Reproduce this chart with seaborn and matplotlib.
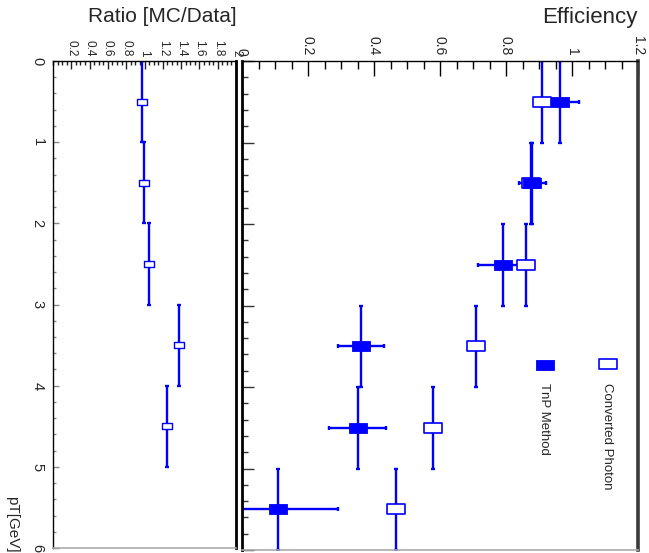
import numpy as np
import pandas as pd
import matplotlib
matplotlib.use("Agg")
import matplotlib.pyplot as plt
from matplotlib.path import Path
from matplotlib.ticker import MultipleLocator, FuncFormatter, FixedLocator
import seaborn as sns

# ---- data -------------------------------------------------------------
pt_centers = [0.5, 1.5, 2.5, 3.5, 4.5, 5.5]
pt_halfwidth = [0.5, 0.5, 0.5, 0.5, 0.5, 0.5]

tnp_eff = [0.965, 0.880, 0.790, 0.360, 0.350, 0.110]
tnp_err = [0.056, 0.040, 0.076, 0.070, 0.086, 0.180]

conv_eff = [0.908, 0.876, 0.860, 0.708, 0.578, 0.467]
conv_err = [0.004, 0.004, 0.004, 0.004, 0.004, 0.004]

ratio_pt = [0.5, 1.5, 2.5, 3.5, 4.5]
ratio_halfwidth = [0.5, 0.5, 0.5, 0.5, 0.5]
ratio_val = [0.972, 0.994, 1.052, 1.381, 1.246]

eff_ticks = [0.0, 0.2, 0.4, 0.6, 0.8, 1.0, 1.2]
ratio_ticks = [0.2, 0.4, 0.6, 0.8, 1.0, 1.2, 1.4, 1.6, 1.8, 2.0]
pt_ticks = [0, 1, 2, 3, 4, 5, 6]

series_names = ["TnP Method", "Converted Photon"]

# ---- style ------------------------------------------------------------
sns.set_style("white")
plt.rcParams["font.family"] = ["Liberation Sans", "DejaVu Sans"]
NARROW = ["Liberation Sans Narrow", "Liberation Sans", "DejaVu Sans"]
BLUE = "#0000ff"

W, H = 649, 553
fig = plt.figure(figsize=(W / 100, H / 100), dpi=100)


def fx(px):
    return px / W


def fy(py):
    return 1 - py / H


ax_r = fig.add_axes([fx(53), fy(548), fx(236) - fx(53), fy(61) - fy(548)])
ax_e = fig.add_axes([fx(242), fy(550), fx(638) - fx(242), fy(61) - fy(550)])

# rectangular markers
def rect_marker(half_h):
    return Path([(-1, -half_h), (1, -half_h), (1, half_h), (-1, half_h), (-1, -half_h)],
                [Path.MOVETO, Path.LINETO, Path.LINETO, Path.LINETO, Path.CLOSEPOLY])

big_box = rect_marker(0.6)
small_box = rect_marker(0.67)

fmt_g = FuncFormatter(lambda v, p: f"{v:g}")

# ---- efficiency panel ------------------------------------------------
df_tnp = pd.DataFrame({"eff": tnp_eff, "pT": pt_centers})
df_conv = pd.DataFrame({"eff": conv_eff, "pT": pt_centers})

ax_e.errorbar(conv_eff, pt_centers, xerr=conv_err, yerr=pt_halfwidth, fmt="none",
              ecolor=BLUE, elinewidth=1.7, capsize=1.5, capthick=1.7, zorder=2)
ax_e.errorbar(tnp_eff, pt_centers, xerr=tnp_err, yerr=pt_halfwidth, fmt="none",
              ecolor=BLUE, elinewidth=1.7, capsize=1.5, capthick=1.7, zorder=2)
sns.scatterplot(data=df_conv, x="eff", y="pT", ax=ax_e, marker=big_box, s=12.5 ** 2,
                facecolor="white", edgecolor=BLUE, linewidth=1.2, zorder=3, legend=False)
sns.scatterplot(data=df_tnp, x="eff", y="pT", ax=ax_e, marker=big_box, s=12.5 ** 2,
                color=BLUE, edgecolor=BLUE, linewidth=0.6, zorder=4, legend=False)

ax_e.set_xlim(0, 1.2)
ax_e.set_ylim(6, 0)
ax_e.set_xlabel("")
ax_e.set_ylabel("")
ax_e.xaxis.tick_top()
ax_e.xaxis.set_major_locator(FixedLocator(eff_ticks))
ax_e.xaxis.set_minor_locator(MultipleLocator(0.05))
ax_e.xaxis.set_major_formatter(fmt_g)
ax_e.tick_params(axis="x", which="both", direction="in", top=True, bottom=False,
                 labeltop=True, labelbottom=False, color="black", width=1)
ax_e.tick_params(axis="x", which="major", length=11, pad=4, labelsize=10,
                 labelrotation=-90)
ax_e.tick_params(axis="x", which="minor", length=5.5)
ax_e.yaxis.set_major_locator(FixedLocator(pt_ticks))
ax_e.yaxis.set_minor_locator(MultipleLocator(0.2))
ax_e.tick_params(axis="y", which="both", direction="in", left=True, right=False,
                 labelleft=False, color="#333333", width=1)
ax_e.tick_params(axis="y", which="major", length=8.5)
ax_e.tick_params(axis="y", which="minor", length=4.3)
for lbl in ax_e.get_xticklabels():
    lbl.set_ha("center")
    lbl.set_va("bottom")

ax_e.spines["top"].set_color("black")
ax_e.spines["top"].set_linewidth(1)
ax_e.spines["left"].set_color("black")
ax_e.spines["left"].set_linewidth(2)
ax_e.spines["right"].set_color("#3a3a3a")
ax_e.spines["right"].set_linewidth(2.6)
ax_e.spines["bottom"].set_color("#aaaaaa")
ax_e.spines["bottom"].set_linewidth(1.2)

# legend, drawn in axes fraction
ax_e.scatter([0.924], [0.38], transform=ax_e.transAxes, marker=big_box, s=13 ** 2,
             facecolor="white", edgecolor=BLUE, linewidth=1.2, zorder=5, clip_on=False)
ax_e.scatter([0.764], [0.378], transform=ax_e.transAxes, marker=big_box, s=13 ** 2,
             facecolor=BLUE, edgecolor=BLUE, linewidth=0.6, zorder=5, clip_on=False)
ax_e.text(0.922, 0.342, series_names[1], transform=ax_e.transAxes, rotation=-90,
          ha="center", va="top", fontsize=9.5, family=NARROW)
ax_e.text(0.763, 0.342, series_names[0], transform=ax_e.transAxes, rotation=-90,
          ha="center", va="top", fontsize=9.5, family=NARROW)

# ---- ratio panel -----------------------------------------------------
df_ratio = pd.DataFrame({"ratio": ratio_val, "pT": ratio_pt})
ax_r.errorbar(ratio_val, ratio_pt, yerr=ratio_halfwidth, fmt="none", ecolor=BLUE,
              elinewidth=1.7, capsize=1.5, capthick=1.7, zorder=2)
sns.scatterplot(data=df_ratio, x="ratio", y="pT", ax=ax_r, marker=small_box,
                s=6.8 ** 2, facecolor="white", edgecolor=BLUE, linewidth=1.0,
                zorder=3, legend=False)

ax_r.set_xlim(0, 2)
ax_r.set_ylim(6, 0)
ax_r.set_xlabel("")
ax_r.set_ylabel("")
ax_r.xaxis.tick_top()
ax_r.xaxis.set_major_locator(FixedLocator(ratio_ticks))
ax_r.xaxis.set_minor_locator(MultipleLocator(0.05))
ax_r.xaxis.set_major_formatter(fmt_g)
ax_r.tick_params(axis="x", which="both", direction="in", top=True, bottom=False,
                 labeltop=True, labelbottom=False, color="#222222", width=1)
ax_r.tick_params(axis="x", which="major", length=6, pad=3, labelsize=8.5,
                 labelrotation=-90)
ax_r.tick_params(axis="x", which="minor", length=3)
ax_r.yaxis.set_major_locator(FixedLocator(pt_ticks))
ax_r.yaxis.set_minor_locator(MultipleLocator(0.2))
ax_r.yaxis.set_major_formatter(fmt_g)
ax_r.tick_params(axis="y", which="both", direction="in", left=True, right=False,
                 labelleft=True, color="#888888", width=1)
ax_r.tick_params(axis="y", which="major", length=4.5, pad=6, labelsize=10.5,
                 labelrotation=-90)
ax_r.tick_params(axis="y", which="minor", length=2.5)
for lbl in ax_r.get_xticklabels():
    lbl.set_ha("center")
    lbl.set_va("bottom")
for lbl in ax_r.get_yticklabels():
    lbl.set_va("center")
    lbl.set_ha("right")

ax_r.spines["top"].set_color("black")
ax_r.spines["top"].set_linewidth(1)
ax_r.spines["left"].set_color("black")
ax_r.spines["left"].set_linewidth(1)
ax_r.spines["right"].set_color("black")
ax_r.spines["right"].set_linewidth(2)
ax_r.spines["bottom"].set_color("#aaaaaa")
ax_r.spines["bottom"].set_linewidth(1.2)

# ---- titles ----------------------------------------------------------
fig.text(fx(638), fy(18), "Efficiency", ha="right", va="center", fontsize=16)
fig.text(fx(237), fy(17), "Ratio [MC/Data]", ha="right", va="center", fontsize=15)
fig.text(fx(12), fy(496), "pT[GeV]", ha="center", va="top", rotation=-90, fontsize=11)

fig.savefig("out.png", dpi=100, facecolor="white")
